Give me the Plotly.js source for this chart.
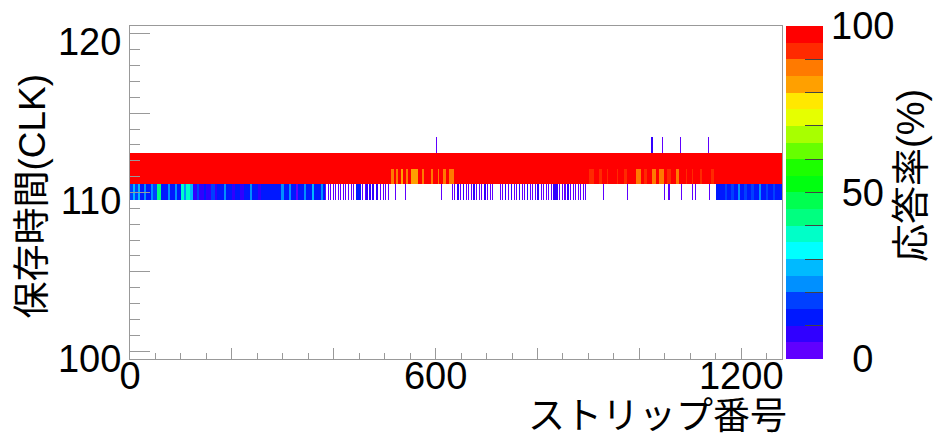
<!DOCTYPE html>
<html><head><meta charset="utf-8">
<script src="https://cdn.plot.ly/plotly-3.0.1.min.js"></script>
<style>html,body{margin:0;padding:0;background:#fff}#chart{width:933px;height:435px}</style>
</head><body><div id="chart"></div>
<script>
// ---- data ----
const nStrips = 1280;
const rowLevels = [110, 111, 112, 113];   // 保存時間 (CLK) bins drawn

// segments: [first strip, last strip (exclusive), response %]
const row110 = [
  [0,6,18],[6,10,26],[10,16,15],[16,20,25],[20,28,14],[28,31,22],[31,41,14],[41,45,24],[45,53,16],[53,61,42],
  [61,75,14],[75,79,24],[79,88,13],[88,92,22],[92,100,14],[100,106,35],[106,110,24],[110,118,38],[118,124,27],
  [124,132,8],[132,136,16],[136,146,7],[146,150,14],[150,160,8],[160,166,18],[166,171,9],
  [171,185,12],[185,189,22],[189,200,12],[200,206,6],[206,216,13],[216,224,7],[224,236,12],[236,240,22],
  [240,252,10],[252,258,6],[258,271,12],[271,296,11],
  [296,302,20],[302,312,13],[312,316,24],[316,326,12],[326,330,3],[330,342,14],[342,346,22],[346,358,13],
  [358,362,25],[362,374,14],[374,378,22],[378,383,13],
  [383,385,4],[388,390,4],[393,395,3],[398,400,4],[403,405,3],[408,410,4],[413,415,3],[418,420,4],[423,425,3],
  [428,430,4],[433,435,3],[438,440,4],[444,454,10],[456,458,4],[461,463,3],
  [464,468,6],[470,474,6],[476,480,5],[483,487,6],
  [491,493,4],[496,498,3],[501,503,4],[506,508,3],
  [521,523,2],[539,541,2],[610,612,2],
  [632,634,4],[637,639,3],[642,645,5],[648,650,3],[653,656,5],[659,661,3],[664,666,4],[669,671,3],[674,677,5],
  [680,682,3],[685,687,4],[690,692,3],[695,698,5],[701,703,3],[706,708,4],[711,713,3],
  [726,728,4],[731,733,3],[736,739,5],[742,744,3],[747,750,5],[753,755,4],[758,760,3],[763,766,5],[769,771,3],
  [774,776,4],[779,782,5],[785,787,3],[790,792,4],[795,797,3],[800,803,5],[806,808,3],[811,813,4],[816,818,3],
  [821,823,4],[826,828,3],[830,840,6],[843,845,3],[848,850,4],[853,855,3],[858,861,5],[864,866,3],[869,871,4],
  [874,876,3],[879,881,4],[884,886,3],[889,891,4],[894,896,3],
  [929,931,3],[975,977,4],[1048,1050,3],[1057,1060,3],[1081,1083,3],[1103,1105,3],[1110,1112,3],[1136,1138,3],
  [1150,1168,11],[1168,1172,19],[1172,1180,12],[1180,1186,17],[1186,1194,13],[1194,1198,20],[1198,1206,12],
  [1206,1212,18],[1212,1220,11],[1220,1225,19],[1225,1234,12],[1234,1238,20],[1238,1248,11],[1248,1252,18],
  [1252,1262,12],[1262,1266,19],[1266,1280,11]
];
const row111 = [
  [0,1280,100],
  [512,518,85],[522,526,86],[532,536,84],[542,546,86],[552,565,82],[573,578,86],[591,595,88],[604,607,87],
  [614,620,85],[626,636,86],
  [901,911,93],[921,927,92],[936,939,92],[956,959,92],[970,976,90],[993,1003,88],[1009,1015,90],[1025,1033,86],
  [1038,1048,88],[1054,1062,90],[1072,1078,88],[1091,1094,92],[1103,1106,92],[1120,1123,92],[1140,1146,92]
];
const row112 = [[0,1280,100]];
const row113 = [[600,602,3],[1023,1027,7],[1045,1047,3],[1080,1082,3],[1135,1137,3]];

// ROOT-like palette, 20 contour levels (0 -> 100 %)
const paletteColors = [
  '#6000ff','#3000ff','#0018ff','#0040ff','#0090ff','#00baff','#00ffff','#00ffc8','#00ff80','#00ff50',
  '#00ff10','#1cff00','#66ff00','#a8ff00','#e6ff00','#ffe800','#ffa000','#ff7a00','#ff2a00','#ff0000'
];

const xTickVals = [0,200,400,600,800,1000,1200];
const xTickText = ['0','','','600','','','1200'];
const yTickVals = [100,105,110,115,120];
const yTickText = ['100','','110','','120'];
const zTickVals = [0,10,20,30,40,50,60,70,80,90,100];
const zTickText = ['\u00a0\u00a00','','','','','\u00a050','','','','','100'];

const xTitle = 'ストリップ番号';
const yTitle = '保存時間(CLK)';
const zTitle = '応答率(%)';

// ---- build ----
function fillRow(segs){
  const r = new Array(nStrips).fill(null);
  segs.forEach(([s,e,v]) => { for(let i=s;i<e;i++) r[i]=v; });
  return r;
}
const z = [row110, row111, row112, row113].map(fillRow);

const colorscale = [];
paletteColors.forEach((c,i) => {
  colorscale.push([i/paletteColors.length, c]);
  colorscale.push([(i+1)/paletteColors.length, c]);
});

const FONT = 'Liberation Sans, Arial, Noto Sans CJK JP, sans-serif';
const AX = '#999999';

const trace = {
  type: 'heatmap',
  x0: 0.5, dx: 1,
  y: rowLevels,
  z: z,
  zmin: 0, zmax: 100,
  colorscale: colorscale,
  hoverinfo: 'skip',
  colorbar: {
    thickness: 37, thicknessmode: 'pixels',
    len: 1, lenmode: 'fraction',
    x: 1.00613, xanchor: 'left', xpad: 0,
    y: 0.5, yanchor: 'middle', ypad: 0,
    outlinewidth: 0,
    tickmode: 'array', tickvals: zTickVals, ticktext: zTickText,
    ticks: 'inside', ticklen: 18, tickwidth: 1, tickcolor: '#444',
    tickfont: {family: FONT, size: 38, color: '#000'}
  }
};

const layout = {
  width: 933, height: 435,
  margin: {l: 130, r: 151, t: 26, b: 76, pad: 0},
  paper_bgcolor: '#fff', plot_bgcolor: '#fff',
  font: {family: FONT, color: '#000'},
  xaxis: {
    range: [0, 1280], showgrid: false, zeroline: false,
    showline: true, linecolor: AX, linewidth: 1, mirror: true,
    tickmode: 'array', tickvals: xTickVals, ticktext: xTickText,
    ticks: 'inside', ticklen: 11, tickcolor: AX, tickwidth: 1,
    minor: {tickmode: 'linear', tick0: 0, dtick: 50, ticks: 'inside', ticklen: 6, tickcolor: AX, tickwidth: 1, showgrid: false},
    tickfont: {family: FONT, size: 38, color: '#000'},
    ticklabelstandoff: -17
  },
  yaxis: {
    range: [99.5, 120.5], showgrid: false, zeroline: false,
    showline: true, linecolor: AX, linewidth: 1, mirror: true,
    tickmode: 'array', tickvals: yTickVals, ticktext: yTickText,
    ticks: 'inside', ticklen: 20, tickcolor: AX, tickwidth: 1,
    minor: {tickmode: 'linear', tick0: 100, dtick: 1, ticks: 'inside', ticklen: 10, tickcolor: AX, tickwidth: 1, showgrid: false},
    tickfont: {family: FONT, size: 38, color: '#000'},
    ticklabelshift: 8
  },
  annotations: [
    {text: xTitle, xref: 'paper', yref: 'paper', x: 0.8098, y: -0.172, xanchor: 'center', yanchor: 'middle',
     showarrow: false, font: {family: FONT, size: 37, color: '#000'}},
    {text: yTitle, xref: 'paper', yref: 'paper', x: -0.1503, y: 0.488, xanchor: 'center', yanchor: 'middle',
     textangle: -90, showarrow: false, font: {family: FONT, size: 37, color: '#000'}},
    {text: zTitle, xref: 'paper', yref: 'paper', x: 1.1978, y: 0.5526, xanchor: 'center', yanchor: 'middle',
     textangle: -90, showarrow: false, font: {family: FONT, size: 38, color: '#000'}}
  ]
};

Plotly.newPlot('chart', [trace], layout, {displayModeBar: false, staticPlot: true});
</script>
</body></html>
